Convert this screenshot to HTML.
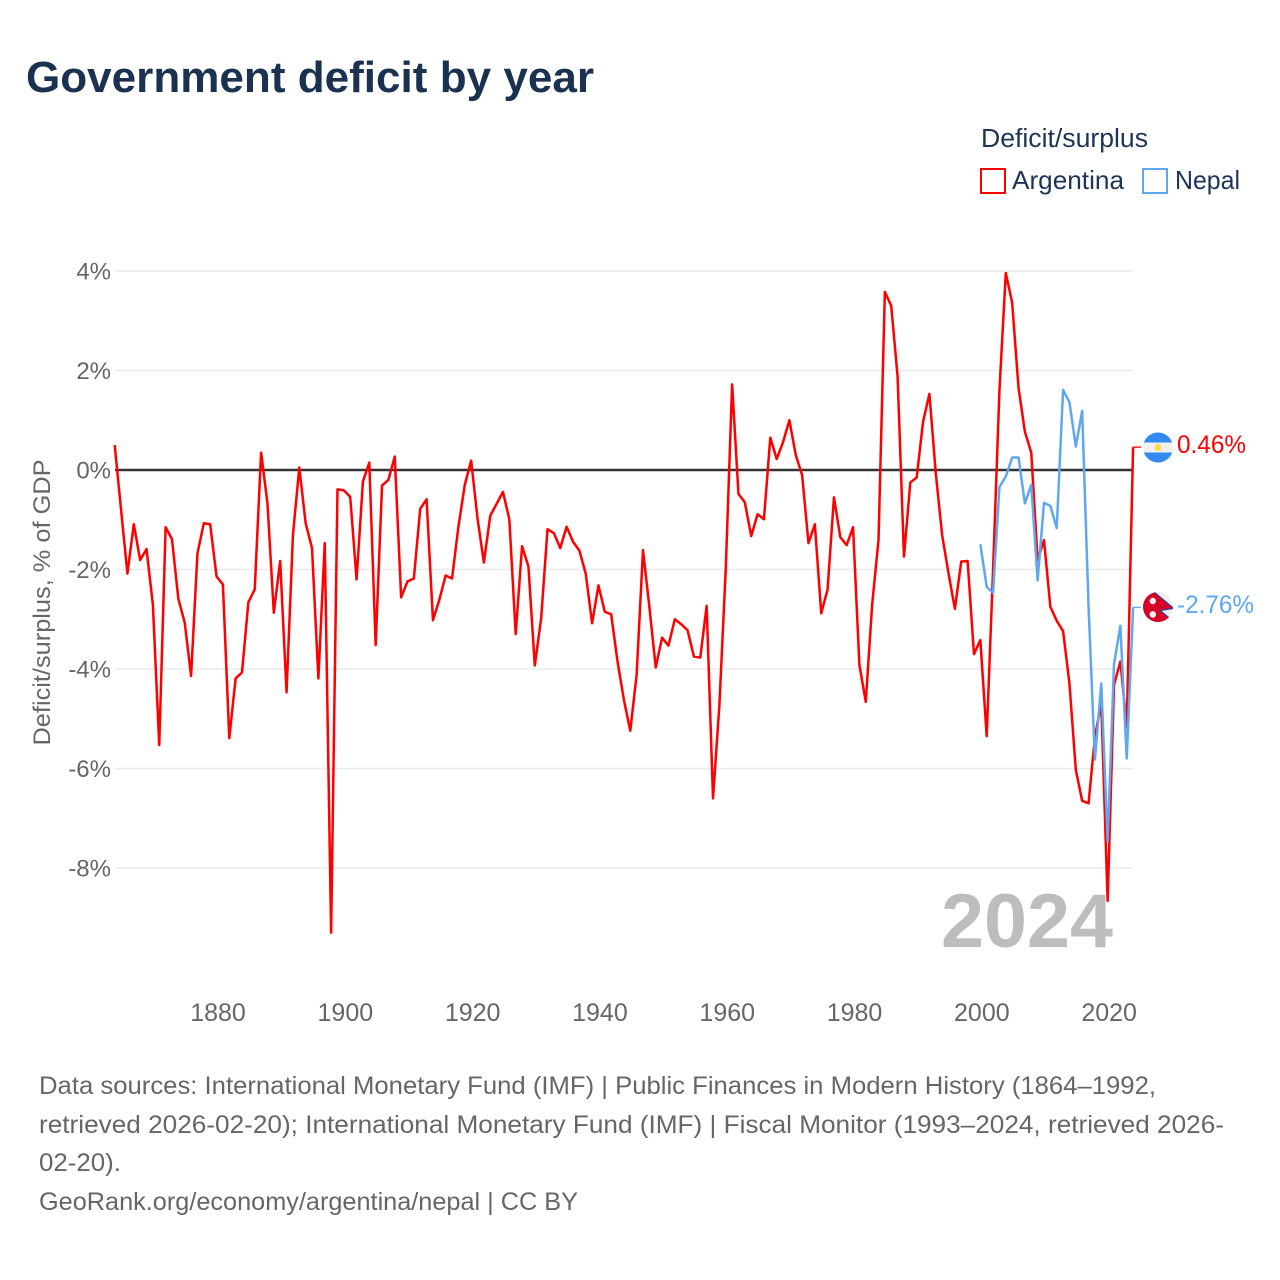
<!DOCTYPE html>
<html lang="en">
<head>
<meta charset="utf-8">
<title>Government deficit by year</title>
<style>
html,body{margin:0;padding:0;background:#fff;width:1280px;height:1280px;overflow:hidden}
svg{display:block}
text{font-family:"Liberation Sans",sans-serif}
</style>
</head>
<body>
<svg id="chart" xmlns="http://www.w3.org/2000/svg" width="1280" height="1280" viewBox="0 0 1280 1280">
  <rect width="1280" height="1280" fill="#fff"/>
  <text x="26" y="92" font-size="44" font-weight="700" fill="#1a3150" textLength="568" lengthAdjust="spacingAndGlyphs">Government deficit by year</text>

  <g>
    <text x="981" y="147" font-size="25.5" fill="#1c3557" textLength="167" lengthAdjust="spacingAndGlyphs">Deficit/surplus</text>
    <g>
      <rect x="981" y="169" width="24" height="24" fill="none" stroke="#ff0000" stroke-width="2"/>
      <text x="1012" y="189" font-size="26" fill="#1c3557" textLength="112" lengthAdjust="spacingAndGlyphs">Argentina</text>
    </g>
    <g>
      <rect x="1143" y="169" width="24" height="24" fill="none" stroke="#5fa8f0" stroke-width="2"/>
      <text x="1175" y="189" font-size="26" fill="#1c3557" textLength="65" lengthAdjust="spacingAndGlyphs">Nepal</text>
    </g>
  </g>

  <text transform="translate(50,602.5) rotate(-90)" text-anchor="middle" font-size="24" fill="#666" textLength="286" lengthAdjust="spacingAndGlyphs">Deficit/surplus, % of GDP</text>

  <g id="grid"></g>
  <g id="yticks"></g>
  <g id="xticks"></g>
  <g id="series"></g>

  <text x="941" y="947" font-size="76" font-weight="700" fill="#bdbdbd" textLength="172" lengthAdjust="spacingAndGlyphs">2024</text>

  <defs>
    <clipPath id="clip-ar"><circle cx="1158" cy="447.5" r="15"/></clipPath>
    <clipPath id="clip-np"><circle cx="1158" cy="607" r="15"/></clipPath>
  </defs>
  <g clip-path="url(#clip-ar)">
    <rect x="1143" y="432" width="30" height="31" fill="#f0f0f0"/>
    <rect x="1143" y="432" width="30" height="10.5" fill="#338af3"/>
    <rect x="1143" y="452.5" width="30" height="10.5" fill="#338af3"/>
    <circle cx="1158" cy="447.5" r="3.4" fill="#ffda44"/>
  </g>
  <g clip-path="url(#clip-np)">
    <rect x="1143" y="592" width="30" height="30" fill="#f0f0f0"/>
    <polygon points="1140,590 1153,591 1174,608.5 1160.5,610.5 1174,622 1174,625 1140,625" fill="#d80027" stroke="#0052b4" stroke-width="1"/>
    <circle cx="1152.8" cy="601" r="3.2" fill="#f0f0f0"/>
    <circle cx="1152.8" cy="614.4" r="3.3" fill="#f0f0f0"/>
  </g>

  <text x="1177" y="453" font-size="25" fill="#ff0000" textLength="69" lengthAdjust="spacingAndGlyphs">0.46%</text>
  <text x="1177" y="613" font-size="25" fill="#5fa8f0" textLength="77" lengthAdjust="spacingAndGlyphs">-2.76%</text>

  <g font-size="25" fill="#666">
    <text x="39" y="1094" textLength="1117" lengthAdjust="spacingAndGlyphs">Data sources: International Monetary Fund (IMF) | Public Finances in Modern History (1864–1992,</text>
    <text x="39" y="1133" textLength="1185" lengthAdjust="spacingAndGlyphs">retrieved 2026-02-20); International Monetary Fund (IMF) | Fiscal Monitor (1993–2024, retrieved 2026-</text>
    <text x="39" y="1171" textLength="82" lengthAdjust="spacingAndGlyphs">02-20).</text>
    <text x="39" y="1210" textLength="539" lengthAdjust="spacingAndGlyphs">GeoRank.org/economy/argentina/nepal | CC BY</text>
  </g>
</svg>
<script>
const startYear = 1864;
const argentinaValues = [
  0.50,-0.80,-2.08,-1.09,-1.81,-1.59,
  -2.71,-5.53,-1.15,-1.39,-2.59,-3.07,-4.14,-1.68,-1.07,-1.09,
  -2.14,-2.30,-5.39,-4.19,-4.07,-2.66,-2.40,0.35,-0.67,-2.87,
  -1.83,-4.47,-1.31,0.05,-1.07,-1.57,-4.19,-1.47,-9.30,-0.39,
  -0.41,-0.54,-2.20,-0.23,0.15,-3.52,-0.31,-0.20,0.27,-2.56,
  -2.24,-2.18,-0.78,-0.59,-3.02,-2.61,-2.12,-2.18,-1.14,-0.30,
  0.19,-0.97,-1.86,-0.92,-0.68,-0.44,-0.99,-3.30,-1.53,-1.94,
  -3.93,-2.98,-1.19,-1.27,-1.57,-1.14,-1.44,-1.62,-2.08,-3.08,
  -2.32,-2.85,-2.90,-3.85,-4.62,-5.24,-4.12,-1.61,-2.75,-3.97,
  -3.37,-3.53,-3.00,-3.10,-3.22,-3.75,-3.77,-2.73,-6.60,-4.73,
  -2.00,1.72,-0.48,-0.65,-1.33,-0.89,-0.99,0.65,0.22,0.56,
  1.00,0.30,-0.10,-1.47,-1.09,-2.88,-2.40,-0.55,-1.35,-1.51,
  -1.15,-3.92,-4.66,-2.71,-1.41,3.58,3.30,1.88,-1.74,-0.25,
  -0.15,0.97,1.53,-0.07,-1.31,-2.08,-2.79,-1.84,-1.83,-3.70,
  -3.42,-5.35,-2.00,1.60,3.96,3.36,1.65,0.77,0.35,-1.81,
  -1.41,-2.75,-3.03,-3.24,-4.29,-6.03,-6.65,-6.70,-5.36,-4.69,
  -8.66,-4.32,-3.85,-5.16,0.46
];
const nepalStartYear = 2000;
const nepalValues = [
  -1.49,-2.35,-2.47,-0.34,-0.13,0.25,0.25,-0.67,-0.30,-2.22,
  -0.66,-0.72,-1.17,1.61,1.36,0.47,1.19,-2.75,-5.82,-4.29,
  -7.47,-3.90,-3.13,-5.80,-2.76
];
const yTickValues = [4,2,0,-2,-4,-6,-8];
const xTickYears = [1880,1900,1920,1940,1960,1980,2000,2020];

const NS = 'http://www.w3.org/2000/svg';
function xScale(year){ return 114.7 + (year - 1864) * 6.365; }
function yScale(v){ return 470 - v * 49.75; }
const PLOT_LEFT = 115, PLOT_RIGHT = 1133;

const grid = document.getElementById('grid');
const yticks = document.getElementById('yticks');
yTickValues.forEach(function(v){
  const line = document.createElementNS(NS,'line');
  
  
  line.setAttribute('x1', PLOT_LEFT);
  line.setAttribute('x2', PLOT_RIGHT);
  line.setAttribute('y1', yScale(v));
  line.setAttribute('y2', yScale(v));
  line.setAttribute('stroke', v === 0 ? '#333' : '#ebebeb');
  line.setAttribute('stroke-width', v === 0 ? 2.6 : 1.5);
  grid.appendChild(line);
  const t = document.createElementNS(NS,'text');
  
  
  t.setAttribute('x', 111);
  t.setAttribute('y', yScale(v) + 8.5);
  t.setAttribute('text-anchor', 'end');
  t.setAttribute('font-size', '24');
  t.setAttribute('fill', '#666');
  t.textContent = v + '%';
  yticks.appendChild(t);
});

const xticks = document.getElementById('xticks');
xTickYears.forEach(function(y){
  const t = document.createElementNS(NS,'text');
  
  
  t.setAttribute('x', xScale(y) + 1.5);
  t.setAttribute('y', 1021);
  t.setAttribute('text-anchor', 'middle');
  t.setAttribute('font-size', '25');
  t.setAttribute('fill', '#666');
  t.textContent = y;
  xticks.appendChild(t);
});

const series = document.getElementById('series');
function pointsFor(first, values){
  return values.map(function(v, i){
    return xScale(first + i).toFixed(2) + ',' + yScale(v).toFixed(2);
  }).join(' ');
}
function leaderFor(first, values){
  const last = values.length - 1;
  const x = xScale(first + last), y = yScale(values[last]);
  return x.toFixed(2) + ',' + y.toFixed(2) + ' ' + (x + 8).toFixed(2) + ',' + y.toFixed(2);
}

const redLine = document.createElementNS(NS,'polyline');


redLine.setAttribute('points', pointsFor(startYear, argentinaValues));
redLine.setAttribute('fill', 'none');
redLine.setAttribute('stroke', '#ff0000');
redLine.setAttribute('stroke-width', '2.5');
redLine.setAttribute('stroke-linejoin', 'round');
series.appendChild(redLine);

const redLeader = document.createElementNS(NS,'polyline');


redLeader.setAttribute('points', leaderFor(startYear, argentinaValues));
redLeader.setAttribute('fill', 'none');
redLeader.setAttribute('stroke', '#ff0000');
redLeader.setAttribute('stroke-width', '1.3');
series.appendChild(redLeader);

const blueLine = document.createElementNS(NS,'polyline');


blueLine.setAttribute('points', pointsFor(nepalStartYear, nepalValues));
blueLine.setAttribute('fill', 'none');
blueLine.setAttribute('stroke', '#5fa8f0');
blueLine.setAttribute('stroke-width', '2.5');
blueLine.setAttribute('stroke-linejoin', 'round');
series.appendChild(blueLine);

const blueLeader = document.createElementNS(NS,'polyline');


blueLeader.setAttribute('points', leaderFor(nepalStartYear, nepalValues));
blueLeader.setAttribute('fill', 'none');
blueLeader.setAttribute('stroke', '#5fa8f0');
blueLeader.setAttribute('stroke-width', '1.3');
series.appendChild(blueLeader);
</script>
</body>
</html>
